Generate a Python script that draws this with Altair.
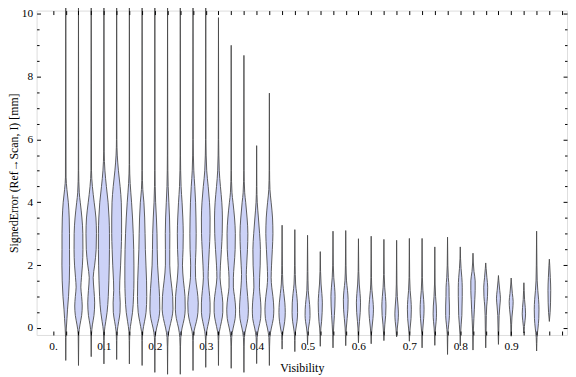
import altair as alt
import pandas as pd

# ---- data ----
VISIBILITY = [0.025, 0.05, 0.075, 0.1, 0.125, 0.15, 0.175, 0.2, 0.225, 0.25,
              0.275, 0.3, 0.325, 0.35, 0.375, 0.4, 0.425, 0.45, 0.475, 0.5,
              0.525, 0.55, 0.575, 0.6, 0.625, 0.65, 0.675, 0.7, 0.725, 0.75,
              0.775, 0.8, 0.825, 0.85, 0.875, 0.9, 0.925, 0.95, 0.975]

ERR_MIN = [-1.03, -1.19, -0.91, -1.14, -1.00, -1.14, -1.19, -1.41, -1.47, -1.47,
           -1.35, -1.25, -1.19, -1.28, -1.41, -1.13, -1.19, -0.67, -0.75, -0.53,
           -0.58, -0.63, -0.56, -0.47, -0.50, -0.40, -0.28, -0.42, -0.63, -0.55,
           -0.84, -0.57, -0.70, -0.63, -0.52, -0.26, -0.16, -0.73, 0.21]

ERR_MAX = [11.0, 11.0, 11.0, 11.0, 11.0, 11.0, 11.0, 11.0, 11.0, 11.0,
           11.0, 11.0, 9.87, 8.99, 8.67, 5.80, 7.47, 3.27, 3.13, 2.95,
           2.43, 3.08, 3.10, 2.84, 2.92, 2.82, 2.79, 2.85, 2.85, 2.58,
           2.89, 2.58, 2.38, 2.07, 1.67, 1.59, 1.44, 3.08, 2.19]

# density profile of each violin: error levels and relative half widths
LEVELS = [
    [4.8, 4.4, 4.0, 3.5, 3.0, 2.5, 2.0, 1.5, 1.0, 0.6, 0.3, 0.0, -0.3],
    [5.0, 4.3, 4.0, 3.5, 3.0, 2.5, 2.0, 1.6, 1.3, 1.0, 0.7, 0.4, 0.1, -0.2],
    [5.0, 4.5, 4.0, 3.5, 3.0, 2.5, 2.0, 1.6, 1.2, 0.8, 0.4, 0.1, -0.2],
    [5.6, 5.0, 4.5, 4.0, 3.5, 3.0, 2.5, 2.0, 1.5, 1.0, 0.5, 0.2, -0.1, -0.4],
    [6.0, 5.5, 5.0, 4.5, 4.0, 3.5, 3.0, 2.5, 2.0, 1.5, 1.2, 0.8, 0.5, 0.2, -0.1, -0.4],
    [5.2, 4.6, 4.0, 3.5, 3.0, 2.5, 2.0, 1.5, 1.0, 0.5, 0.2, -0.1, -0.4],
    [5.0, 4.4, 4.0, 3.5, 3.0, 2.5, 2.0, 1.5, 1.0, 0.5, 0.2, -0.1, -0.4],
    [5.0, 4.0, 3.5, 3.0, 2.5, 2.0, 1.5, 1.0, 0.6, 0.3, 0.0, -0.3, -0.6],
    [5.5, 4.5, 4.0, 3.5, 3.0, 2.5, 2.0, 1.5, 1.0, 0.6, 0.3, 0.0, -0.3, -0.6],
    [5.5, 4.5, 4.0, 3.5, 3.0, 2.5, 2.0, 1.5, 1.0, 0.6, 0.3, 0.0, -0.3, -0.6],
    [6.0, 5.0, 4.5, 4.0, 3.5, 3.0, 2.5, 2.0, 1.6, 1.2, 0.8, 0.5, 0.2, -0.1, -0.4],
    [6.0, 5.0, 4.5, 4.0, 3.5, 3.0, 2.5, 2.0, 1.6, 1.2, 0.8, 0.5, 0.2, -0.1, -0.4],
    [6.0, 5.0, 4.5, 4.0, 3.5, 3.0, 2.5, 2.0, 1.6, 1.2, 0.8, 0.5, 0.2, -0.1, -0.4],
    [5.0, 4.3, 4.0, 3.5, 3.0, 2.5, 2.0, 1.6, 1.3, 1.0, 0.6, 0.3, 0.0, -0.3, -0.6],
    [5.0, 4.3, 4.0, 3.5, 3.0, 2.5, 2.0, 1.7, 1.3, 1.0, 0.6, 0.3, 0.0, -0.3, -0.6],
    [4.5, 4.0, 3.5, 3.0, 2.5, 2.0, 1.6, 1.3, 1.0, 0.6, 0.3, 0.0, -0.3, -0.6],
    [5.0, 4.4, 4.0, 3.5, 3.0, 2.5, 2.0, 1.6, 1.3, 1.0, 0.6, 0.3, 0.0, -0.3, -0.6],
    [2.0, 1.4, 1.1, 0.8, 0.5, 0.2, 0.0, -0.2, -0.4],
    [2.0, 1.4, 1.1, 0.8, 0.5, 0.2, 0.0, -0.2, -0.4],
    [1.8, 1.2, 0.9, 0.6, 0.4, 0.2, 0.0, -0.2],
    [1.8, 1.4, 1.1, 0.8, 0.5, 0.2, 0.0, -0.2],
    [2.0, 1.6, 1.3, 1.0, 0.7, 0.4, 0.1, -0.2],
    [2.0, 1.5, 1.2, 0.9, 0.6, 0.3, 0.0, -0.2],
    [1.8, 1.4, 1.1, 0.8, 0.5, 0.2, 0.0, -0.2],
    [1.6, 1.2, 0.9, 0.6, 0.3, 0.0, -0.2],
    [1.7, 1.3, 1.0, 0.7, 0.4, 0.1, -0.2],
    [1.4, 1.0, 0.7, 0.45, 0.2, 0.0, -0.2],
    [1.6, 1.2, 0.9, 0.6, 0.3, 0.0, -0.2],
    [1.6, 1.2, 0.9, 0.6, 0.3, 0.0, -0.2],
    [1.4, 1.0, 0.7, 0.45, 0.2, 0.0, -0.2],
    [2.0, 1.6, 1.3, 1.0, 0.7, 0.4, 0.1, -0.2],
    [2.2, 1.9, 1.6, 1.3, 1.0, 0.7, 0.4, 0.1, -0.2],
    [2.1, 1.8, 1.5, 1.2, 0.9, 0.6, 0.3, 0.0, -0.2],
    [1.9, 1.6, 1.3, 1.0, 0.7, 0.4, 0.0, -0.2],
    [1.5, 1.2, 0.95, 0.7, 0.4, 0.0, -0.2],
    [1.4, 1.1, 0.85, 0.6, 0.35, 0.1, -0.1],
    [1.2, 0.9, 0.65, 0.45, 0.25, 0.05, -0.1],
    [2.0, 1.5, 1.2, 0.9, 0.6, 0.3, 0.0, -0.3, -0.5],
    [2.0, 1.6, 1.2, 0.8, 0.5],
]

DENSITY = [
    [0.3, 1.2, 2.6, 3.5, 3.8, 3.8, 3.9, 3.6, 2.8, 1.8, 1.2, 0.6, 0.2],
    [0.2, 0.8, 1.8, 3.5, 4.4, 4.5, 4.0, 3.0, 2.4, 3.2, 3.8, 3.2, 1.5, 0.3],
    [0.3, 1.2, 3.0, 4.8, 5.3, 5.0, 3.5, 2.0, 2.8, 3.5, 2.8, 1.2, 0.3],
    [0.3, 1.0, 2.5, 4.2, 5.2, 5.6, 5.6, 5.4, 5.0, 4.4, 3.2, 1.8, 0.5, 0.2],
    [0.2, 0.6, 1.8, 3.5, 4.7, 5.0, 5.0, 4.6, 4.0, 3.2, 3.0, 3.6, 3.4, 2.0, 0.6, 0.2],
    [0.2, 0.8, 2.2, 3.2, 3.9, 4.4, 4.6, 4.6, 4.2, 3.2, 1.8, 0.5, 0.2],
    [0.2, 0.7, 1.8, 2.6, 3.0, 3.3, 3.9, 4.5, 4.7, 4.0, 2.4, 0.7, 0.2],
    [0.2, 0.8, 1.6, 2.2, 2.4, 2.8, 3.8, 4.8, 5.0, 4.0, 1.8, 0.4, 0.2],
    [0.2, 0.6, 1.3, 2.0, 2.3, 2.2, 2.2, 3.5, 5.2, 5.5, 4.2, 2.0, 0.5, 0.2],
    [0.2, 0.8, 1.8, 2.6, 3.0, 2.8, 2.2, 3.2, 4.8, 5.0, 4.0, 1.8, 0.5, 0.2],
    [0.2, 0.8, 1.8, 2.6, 3.0, 3.2, 3.0, 2.4, 2.6, 4.2, 5.3, 5.0, 3.4, 1.0, 0.2],
    [0.2, 1.0, 2.5, 3.8, 4.4, 4.3, 3.6, 2.8, 2.4, 3.4, 4.4, 4.4, 3.0, 1.0, 0.2],
    [0.2, 0.8, 2.0, 3.4, 4.0, 3.8, 3.0, 2.0, 1.6, 3.0, 4.4, 4.4, 3.0, 1.0, 0.2],
    [0.2, 0.8, 1.8, 3.4, 4.2, 4.0, 3.0, 2.2, 2.2, 3.4, 4.5, 4.0, 2.0, 0.5, 0.2],
    [0.2, 0.8, 1.8, 3.2, 4.0, 3.6, 2.8, 2.4, 3.0, 3.8, 4.5, 4.0, 2.0, 0.5, 0.2],
    [0.2, 0.6, 1.8, 3.0, 3.8, 3.6, 3.0, 2.8, 3.6, 4.4, 4.0, 2.0, 0.5, 0.2],
    [0.2, 0.6, 1.8, 3.2, 3.6, 3.0, 2.2, 1.8, 2.4, 3.6, 4.5, 4.0, 2.0, 0.5, 0.2],
    [0.3, 0.8, 1.8, 2.8, 3.2, 2.6, 1.6, 0.5, 0.2],
    [0.3, 0.8, 1.8, 2.6, 2.8, 2.2, 1.2, 0.4, 0.2],
    [0.3, 0.7, 1.6, 2.4, 2.5, 2.0, 1.0, 0.3],
    [0.3, 0.8, 1.6, 2.1, 1.9, 1.3, 0.6, 0.3],
    [0.3, 0.8, 1.6, 2.1, 1.9, 1.4, 0.8, 0.3],
    [0.3, 0.8, 1.8, 2.4, 2.2, 1.4, 0.6, 0.3],
    [0.3, 0.8, 1.6, 2.1, 1.8, 1.0, 0.5, 0.3],
    [0.3, 0.8, 1.7, 2.3, 1.8, 0.8, 0.3],
    [0.3, 0.8, 1.6, 2.1, 1.8, 0.9, 0.3],
    [0.3, 0.7, 1.4, 1.8, 1.4, 0.7, 0.3],
    [0.3, 0.8, 1.6, 2.0, 1.7, 0.8, 0.3],
    [0.3, 0.8, 1.6, 2.0, 1.6, 0.8, 0.3],
    [0.3, 0.8, 1.5, 1.7, 1.3, 0.7, 0.3],
    [0.3, 0.8, 1.5, 1.6, 1.9, 1.9, 1.1, 0.3],
    [0.3, 0.8, 1.6, 2.0, 2.0, 1.8, 1.6, 0.9, 0.3],
    [0.3, 1.0, 2.2, 2.2, 1.8, 1.4, 0.9, 0.5, 0.3],
    [0.4, 1.2, 2.0, 1.8, 1.0, 0.6, 0.4, 0.3],
    [0.4, 1.3, 2.0, 1.4, 0.7, 0.4, 0.3],
    [0.4, 1.2, 2.0, 1.6, 0.8, 0.4, 0.3],
    [0.3, 0.7, 1.4, 1.7, 1.2, 0.5, 0.3],
    [0.3, 0.6, 1.2, 2.0, 2.4, 2.2, 1.4, 0.4, 0.2],
    [0.4, 1.0, 1.4, 1.2, 0.8],
]

X_TICK_LABELS = [0.0, 0.1, 0.2, 0.3, 0.4, 0.5, 0.6, 0.7, 0.8, 0.9]
X_TICKS = [0.0, 0.025, 0.05, 0.075, 0.1, 0.125, 0.15, 0.175, 0.2, 0.225, 0.25,
           0.275, 0.3, 0.325, 0.35, 0.375, 0.4, 0.425, 0.45, 0.475, 0.5,
           0.525, 0.55, 0.575, 0.6, 0.625, 0.65, 0.675, 0.7, 0.725, 0.75,
           0.775, 0.8, 0.825, 0.85, 0.875, 0.9, 0.925, 0.95, 0.975, 1.0]
Y_TICK_LABELS = [0, 2, 4, 6, 8, 10]
Y_TICKS = [0, 0.5, 1, 1.5, 2, 2.5, 3, 3.5, 4, 4.5, 5, 5.5, 6, 6.5, 7, 7.5,
           8, 8.5, 9, 9.5, 10]

# ---- layout / style ----
W, H = 538, 329
X_DOMAIN = [-0.0323, 1.0097]
Y_DOMAIN = [-0.22, 10.094]
DENSITY_TO_X = (X_DOMAIN[1] - X_DOMAIN[0]) / W   # one density unit = one pixel
FONT = "Liberation Serif"
FILL = "#ccd2f7"
EDGE = "#4a4a4a"

rows = []
for i, vis in enumerate(VISIBILITY):
    pts = [(ERR_MIN[i], 0.0)] + sorted(zip(LEVELS[i], DENSITY[i])) + [(ERR_MAX[i], 0.0)]
    for lev, dens in pts:
        rows.append({
            "vis": vis,
            "err": lev,
            "lo": vis - dens * DENSITY_TO_X,
            "hi": vis + dens * DENSITY_TO_X,
        })
df = pd.DataFrame(rows)

xs = alt.Scale(domain=X_DOMAIN, nice=False, zero=False)
ys = alt.Scale(domain=Y_DOMAIN, nice=False, zero=False)

violins = alt.Chart(df).mark_area(
    orient="horizontal", interpolate="monotone",
    fill=FILL, stroke=EDGE, strokeWidth=0.9, fillOpacity=1,
).encode(
    y=alt.Y("err:Q", scale=ys, axis=alt.Axis(
        orient="left", values=Y_TICK_LABELS, ticks=False, domain=False, grid=False,
        labelPadding=4, labelFont=FONT, labelFontSize=11.5, labelColor="black",
        title="SignedError (Ref→Scan, I) [mm]", titleFont=FONT, titleFontSize=12,
        titleFontWeight="normal", titleColor="black", titlePadding=1)),
    x=alt.X("lo:Q", scale=xs, axis=alt.Axis(
        orient="bottom", values=X_TICK_LABELS, ticks=False, domain=False, grid=False,
        labelExpr="datum.value == 0 ? '0.' : format(datum.value, '.1f')",
        labelPadding=6, labelFont=FONT, labelFontSize=11.5, labelColor="black",
        title="Visibility", titleFont=FONT, titleFontSize=12,
        titleFontWeight="normal", titleColor="black", titlePadding=11)),
    x2="hi:Q",
    detail="vis:N",
)

ytick_size = {"condition": {"test": "datum.value % 2 === 0", "value": 4}, "value": 2.5}

# inward ticks on bottom and left edges
ticks_a = alt.Chart(df).mark_point(opacity=0).encode(
    x=alt.X("lo:Q", scale=xs, axis=alt.Axis(
        orient="top", offset=-H, values=X_TICKS, labels=False, domain=False,
        grid=False, tickSize=4, tickColor="black", tickWidth=1, title="", zindex=2)),
    y=alt.Y("err:Q", scale=ys, axis=alt.Axis(
        orient="right", offset=-W, values=Y_TICKS, labels=False, domain=False,
        grid=False, tickSize=ytick_size, tickColor="black", tickWidth=1, title="", zindex=2)),
)

# inward ticks on top and right edges
ticks_b = alt.Chart(df).mark_point(opacity=0).encode(
    x=alt.X("lo:Q", scale=xs, axis=alt.Axis(
        orient="bottom", offset=-H, values=X_TICKS, labels=False, domain=False,
        grid=False, tickSize=4, tickColor="black", tickWidth=1, title="", zindex=2)),
    y=alt.Y("err:Q", scale=ys, axis=alt.Axis(
        orient="left", offset=-W, values=Y_TICKS, labels=False, domain=False,
        grid=False, tickSize=ytick_size, tickColor="black", tickWidth=1, title="", zindex=2)),
)

chart = alt.layer(violins, ticks_a, ticks_b).resolve_axis(
    x="independent", y="independent"
).properties(
    width=W, height=H,
    autosize=alt.AutoSizeParams(type="none"),
    padding={"left": 29, "top": 0, "right": 1, "bottom": 40},
).configure_view(
    stroke="black", strokeWidth=1
).configure(background="white")

chart.save("out.html", embed_options={"renderer": "svg", "actions": False})
